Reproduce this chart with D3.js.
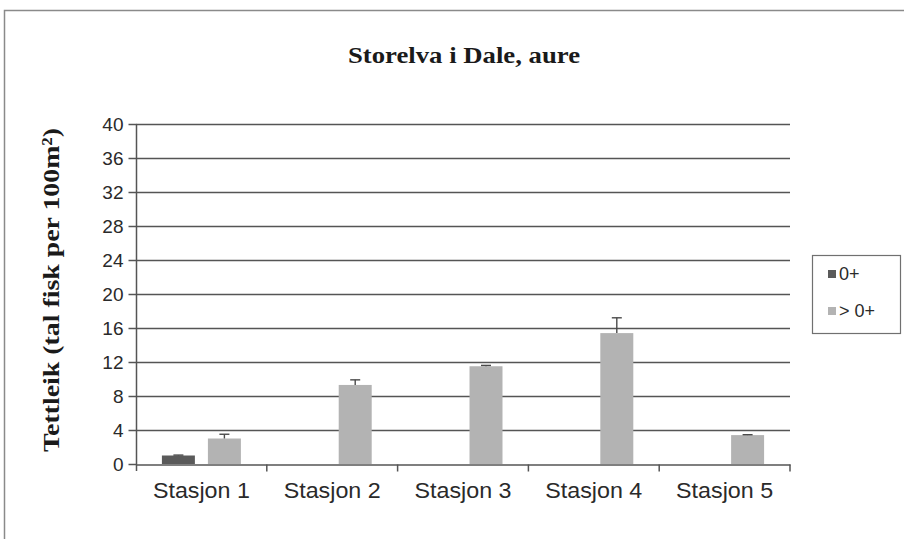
<!DOCTYPE html>
<html>
<head>
<meta charset="utf-8">
<script src="https://cdn.jsdelivr.net/npm/d3@7"></script>
<style>
  html, body { margin: 0; padding: 0; background: #fff; }
  svg { display: block; }
</style>
</head>
<body>
<svg id="chart" width="904" height="539"></svg>
<script>
// ---- data ----
const categories = ["Stasjon 1", "Stasjon 2", "Stasjon 3", "Stasjon 4", "Stasjon 5"];
const seriesNames = ["0+", "> 0+"];
const valuesYoung = [1.0, null, null, null, null];      // 0+
const errorsYoung = [0.05, null, null, null, null];
const valuesOlder = [3.0, 9.3, 11.5, 15.4, 3.4];        // > 0+
const errorsOlder = [0.5, 0.6, 0.1, 1.8, 0.05];
const yTicks = [0, 4, 8, 12, 16, 20, 24, 28, 32, 36, 40];
const titleText = "Storelva i Dale, aure";
const yLabelText = "Tettleik (tal fisk per 100m²)";
const seriesColors = ["#5a5a5a", "#b3b3b3"];

const svg = d3.select("#chart");

// outer frame (runs off the right and bottom edges)
svg.append("rect").attr("x", 4.5).attr("y", 10.5).attr("width", 920).attr("height", 560)
  .attr("fill", "none").attr("stroke", "#8a8a8a").attr("stroke-width", 1.5);

const x0 = d3.scaleBand().domain(categories).range([136, 790]).paddingInner(0).paddingOuter(0);
const x1 = d3.scaleBand().domain(seriesNames).range([0, x0.bandwidth()]).paddingInner(0.283).paddingOuter(0.563);
const y = d3.scaleLinear().domain([0, 40]).range([464, 124]);

const gridColor = "#555";
const gridW = 1.5;

// gridlines
svg.append("g").selectAll("line").data(yTicks.filter(d => d > 0)).join("line")
  .attr("x1", 136).attr("x2", 790)
  .attr("y1", d => Math.round(y(d)) + 0.5).attr("y2", d => Math.round(y(d)) + 0.5)
  .attr("stroke", gridColor).attr("stroke-width", gridW);

// bars
const rows = [];
categories.forEach((c, i) => {
  rows.push({cat: c, s: seriesNames[0], v: valuesYoung[i], e: errorsYoung[i], col: seriesColors[0]});
  rows.push({cat: c, s: seriesNames[1], v: valuesOlder[i], e: errorsOlder[i], col: seriesColors[1]});
});
const data = rows.filter(d => d.v != null);

svg.append("g").selectAll("rect").data(data).join("rect")
  .attr("x", d => x0(d.cat) + x1(d.s))
  .attr("y", d => y(d.v))
  .attr("width", x1.bandwidth())
  .attr("height", d => y(0) - y(d.v))
  .attr("fill", d => d.col);

// error bars (plus direction)
const eg = svg.append("g").attr("stroke", "#4a4a4a").attr("stroke-width", 1.4);
data.forEach(d => {
  const cx = x0(d.cat) + x1(d.s) + x1.bandwidth() / 2;
  eg.append("line").attr("x1", cx).attr("x2", cx).attr("y1", y(d.v)).attr("y2", y(d.v + d.e));
  eg.append("line").attr("x1", cx - 5).attr("x2", cx + 5).attr("y1", y(d.v + d.e)).attr("y2", y(d.v + d.e));
});

// y axis
const yAxis = d3.axisLeft(y).tickValues(yTicks).tickSize(8).tickPadding(6).tickFormat(d3.format("d"));
const gy = svg.append("g").attr("transform", "translate(136.5,0)").call(yAxis);
gy.select(".domain").attr("stroke", gridColor).attr("stroke-width", gridW).attr("d", "M0,124V471");
gy.selectAll(".tick line").attr("stroke", gridColor).attr("stroke-width", gridW);
gy.selectAll(".tick text").attr("font-family", "Liberation Sans, Arial, sans-serif")
  .attr("font-size", 19).attr("fill", "#2a2a2a").attr("x", -13);

// x axis
const xAxis = d3.axisBottom(x0).tickSize(0).tickPadding(18);
const gx = svg.append("g").attr("transform", "translate(0,464.5)").call(xAxis);
gx.select(".domain").attr("stroke", gridColor).attr("stroke-width", gridW);
gx.selectAll(".tick text").attr("font-family", "Liberation Sans, Arial, sans-serif")
  .attr("font-size", 22).attr("fill", "#2a2a2a").attr("dy", "0.71em")
  .attr("textLength", 97).attr("lengthAdjust", "spacingAndGlyphs");
// boundary ticks between categories
const bounds = categories.map(c => x0(c)).concat([x0.range()[1]]);
gx.append("g").selectAll("line").data(bounds.slice(1)).join("line")
  .attr("x1", d => d).attr("x2", d => d).attr("y1", 0).attr("y2", 7)
  .attr("stroke", gridColor).attr("stroke-width", gridW);

// title
svg.append("text").attr("x", 464).attr("y", 63).attr("text-anchor", "middle")
  .attr("font-family", "Liberation Serif, Times New Roman, serif").attr("font-weight", "bold")
  .attr("font-size", 24).attr("fill", "#1a1a1a")
  .attr("textLength", 232).attr("lengthAdjust", "spacingAndGlyphs").text(titleText);

// y label
svg.append("text").attr("transform", "translate(59,290) rotate(-90)").attr("text-anchor", "middle")
  .attr("font-family", "Liberation Serif, Times New Roman, serif").attr("font-weight", "bold")
  .attr("font-size", 24).attr("fill", "#1a1a1a")
  .attr("textLength", 324).attr("lengthAdjust", "spacingAndGlyphs").text(yLabelText);

// legend
const lg = svg.append("g");
lg.append("rect").attr("x", 812.5).attr("y", 255.5).attr("width", 88).attr("height", 78)
  .attr("fill", "#fff").attr("stroke", "#707070").attr("stroke-width", 1.2);
seriesNames.forEach((s, i) => {
  const yy = 274 + i * 37;
  lg.append("rect").attr("x", 828).attr("y", yy - 4).attr("width", 8).attr("height", 8).attr("fill", seriesColors[i]);
  lg.append("text").attr("x", 839).attr("y", yy).attr("dy", "0.35em")
    .attr("font-family", "Liberation Sans, Arial, sans-serif").attr("font-size", 18)
    .attr("fill", "#2a2a2a").text(s);
});
</script>
</body>
</html>
